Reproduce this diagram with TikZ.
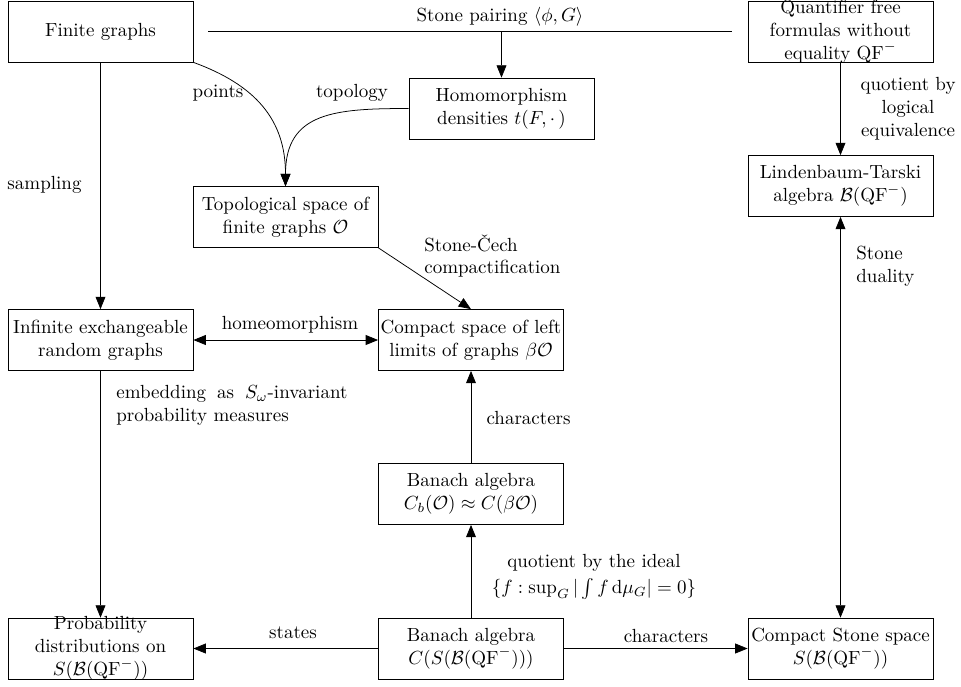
\documentclass[tikz,border=0pt]{standalone}
\usepackage{amsmath,amssymb}
\usetikzlibrary{arrows.meta,calc}
\tikzset{
  box/.style={draw, minimum width=97.4pt, minimum height=32.1pt, inner sep=0pt},
  btext/.style={align=center, inner sep=0pt},
  lab/.style={inner sep=0pt},
  arr/.style={-{Triangle[length=6.5pt,width=5.2pt]}},
  arrtwo/.style={{Triangle[length=6.5pt,width=5.2pt]}-{Triangle[length=6.5pt,width=5.2pt]}},
}
\begin{document}
\begin{tikzpicture}[x=0.5263pt,y=-0.5263pt]
\useasboundingbox (0,0) rectangle (961,686);
% boxes
\node[box] (fg) at (100.5,31.5) {};
\node[btext] (fgt) at (fg) {Finite graphs};
\node[box] (qf) at (840.5,31.5) {};
\node[btext] (qft) at (qf) {Quantifier free\\formulas without\\equality $\mathrm{QF}^-$};
\node[box] (hom) at (501.5,108.5) {};
\node[btext] (homt) at (hom) {Homomorphism\\densities $t(F,\cdot\,)$};
\node[box] (lt) at (840.5,186) {};
\node[btext] (ltt) at (lt) {Lindenbaum-Tarski\\algebra $\mathcal{B}(\mathrm{QF}^-)$};
\node[box] (top) at (285.5,217) {};
\node[btext] (topt) at (top) {Topological space of\\finite graphs $\mathcal{O}$};
\node[box] (inf) at (100.5,340) {};
\node[btext] (inft) at (inf) {Infinite exchangeable\\random graphs};
\node[box] (cpt) at (471,340) {};
\node[btext] (cptt) at (cpt) {Compact space of left\\limits of graphs $\beta\mathcal{O}$};
\node[box] (cb) at (471,494) {};
\node[btext] (cbt) at (cb) {Banach algebra\\$C_b(\mathcal{O})\approx C(\beta\mathcal{O})$};
\node[box] (ban) at (471,648.5) {};
\node[btext] (bant) at (ban) {Banach algebra\\$C(S(\mathcal{B}(\mathrm{QF}^-)))$};
\node[box] (prob) at (100.5,648.5) {};
\node[btext] (probt) at (prob) {Probability\\distributions on\\$S(\mathcal{B}(\mathrm{QF}^-))$};
\node[box] (css) at (840.5,648.5) {};
\node[btext] (csst) at (css) {Compact Stone space\\$S(\mathcal{B}(\mathrm{QF}^-))$};
% connectors
\draw[shorten <=7.9pt, shorten >=8.4pt] (fg.east) -- (qf.west);
\coordinate (sp) at (hom.north |- fg.east);
\draw[arr] (sp) -- (hom.north);
\draw[arr] (fg.south east) to[out=-20,in=90,looseness=1.1] (top.north);
\draw[arr] (hom.west) to[out=180,in=90,looseness=1.3] (top.north);
\draw[arr] (fg.south) -- (inf.north);
\draw[arr] (top.south east) -- (cpt.north);
\draw[arrtwo] (inf.east) -- (cpt.west);
\draw[arr] (inf.south) -- (prob.north);
\draw[arr] (cb.north) -- (cpt.south);
\draw[arr] (ban.north) -- (cb.south);
\draw[arr] (ban.west) -- (prob.east);
\draw[arr] (ban.east) -- (css.west);
\draw[arr] (qf.south) -- (lt.north);
\draw[arrtwo] (lt.south) -- (css.north);
% labels
\node[lab] (l1) at (500,17) {Stone pairing $\langle\phi,G\rangle$};
\node[lab] (l2) at (218,93) {points};
\node[lab] (l3) at (352,93) {topology};
\node[lab] (l4) at (44.5,185) {sampling};
\node[lab, anchor=west, align=left] (l5) at (424,256) {Stone-\v{C}ech\\compactification};
\node[lab] (l6) at (290,325) {homeomorphism};
\node[lab, anchor=west, text width=121.6pt, align=justify] (l7) at (116,405.5) {embedding as $S_\omega$-invariant probability measures};
\node[lab] (l8) at (528.6,418.5) {characters};
\node[lab, align=center] (l9) at (594,577) {quotient by the ideal\\[1.5pt]$\{f:\sup_G|\int f\,\mathrm{d}\mu_G|=0\}$};
\node[lab] (l10) at (293,633) {states};
\node[lab] (l11) at (666,636) {characters};
\node[lab, align=center] (l12) at (908,109) {quotient by\\logical\\equivalence};
\node[lab, anchor=west, align=left] (l13) at (856,266.5) {Stone\\duality};
\end{tikzpicture}
\end{document}
